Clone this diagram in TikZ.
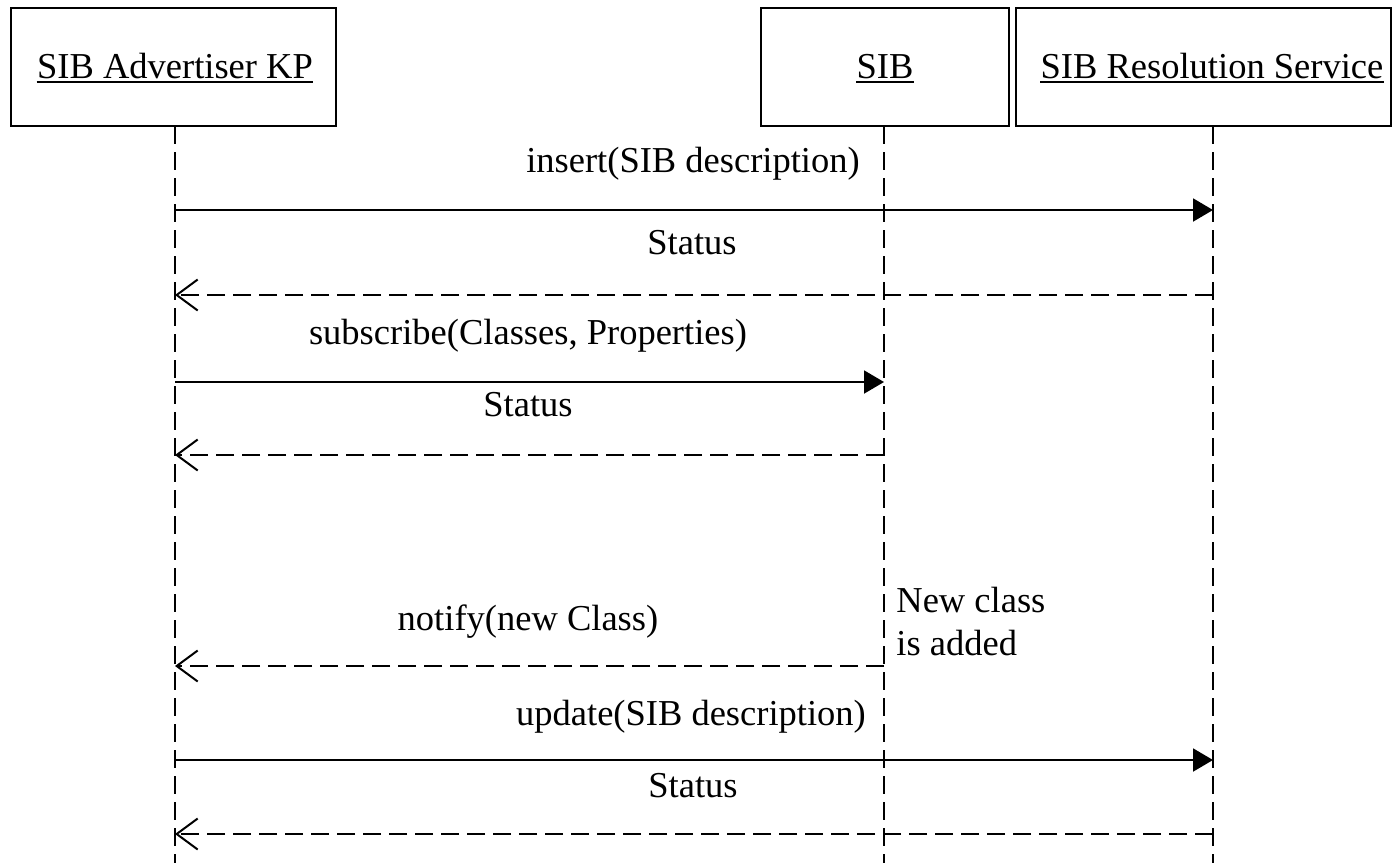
\documentclass[tikz,border=0pt]{standalone}
\usepackage{fontspec}
\setmainfont{Liberation Serif}
\usetikzlibrary{arrows.meta}
\begin{document}
\begin{tikzpicture}[x=0.5pt,y=-0.5pt,
  every node/.style={font=\fontsize{18.25}{22}\selectfont, inner sep=0pt},
  actor/.style={draw, line width=1pt, fill=white},
  hdr/.style={anchor=base},
  msg/.style={anchor=base},
  note/.style={anchor=base west},
  lifeline/.style={line width=1pt, dash pattern=on 9pt off 4pt},
  call/.style={line width=1pt, -{Triangle[length=10pt,width=11.5pt]}},
  reply/.style={line width=1pt, dash pattern=on 9pt off 4pt,
    -{Straight Barb[length=10.5pt,width=15.5pt,line width=1pt]}},
  uline/.style={line width=0.9pt}]
  \useasboundingbox (0,0) rectangle (1393,863);

  % participant boxes
  \node[actor, minimum width=162.5pt, minimum height=59pt] (advbox) at (173.5,67) {};
  \node[actor, minimum width=124pt, minimum height=59pt] (sibbox) at (885,67) {};
  \node[actor, minimum width=187.5pt, minimum height=59pt] (resbox) at (1203.5,67) {};

  % participant names, underlined
  \node[hdr] (advname) at (175,78) {SIB Advertiser KP};
  \node[hdr] (sibname) at (885,78) {SIB};
  \node[hdr] (resname) at (1212,78) {SIB Resolution Service};
  \foreach \n in {advname,sibname,resname}
    \draw[uline] ([yshift=-2pt]\n.base west) -- ([yshift=-2pt]\n.base east);

  % lifelines
  \coordinate (advtop) at (175,126);  \coordinate (advend) at (175,863);
  \coordinate (sibtop) at (884,126);  \coordinate (sibend) at (884,863);
  \coordinate (restop) at (1213,126); \coordinate (resend) at (1213,863);
  \draw[lifeline] (advtop) -- (advend);
  \draw[lifeline] (sibtop) -- (sibend);
  \draw[lifeline] (restop) -- (resend);

  % message anchor points on the lifelines
  \coordinate (a1) at (175,210); \coordinate (r1) at (1213,210);
  \coordinate (a2) at (175,295); \coordinate (r2) at (1213,295);
  \coordinate (a3) at (175,382); \coordinate (s3) at (884,382);
  \coordinate (a4) at (175,455); \coordinate (s4) at (884,455);
  \coordinate (a5) at (175,666); \coordinate (s5) at (884,666);
  \coordinate (a6) at (175,760); \coordinate (r6) at (1213,760);
  \coordinate (a7) at (175,834); \coordinate (r7) at (1213,834);

  % messages
  \draw[call]  (a1) -- (r1);
  \draw[reply] (r2) -- (a2);
  \draw[call]  (a3) -- (s3);
  \draw[reply] (s4) -- (a4);
  \draw[reply] (s5) -- (a5);
  \draw[call]  (a6) -- (r6);
  \draw[reply] (r7) -- (a7);

  % message labels
  \node[msg] (m1) at (693,172) {insert(SIB description)};
  \node[msg] (m2) at (692,254) {Status};
  \node[msg] (m3) at (528,344) {subscribe(Classes, Properties)};
  \node[msg] (m4) at (528,416) {Status};
  \node[msg] (m5) at (528,630) {notify(new Class)};
  \node[msg] (m6) at (691,725) {update(SIB description)};
  \node[msg] (m7) at (693,797) {Status};

  % note beside the SIB lifeline
  \node[note] (n1) at (896,612) {New class};
  \node[note] (n2) at (896,655) {is added};
\end{tikzpicture}
\end{document}
